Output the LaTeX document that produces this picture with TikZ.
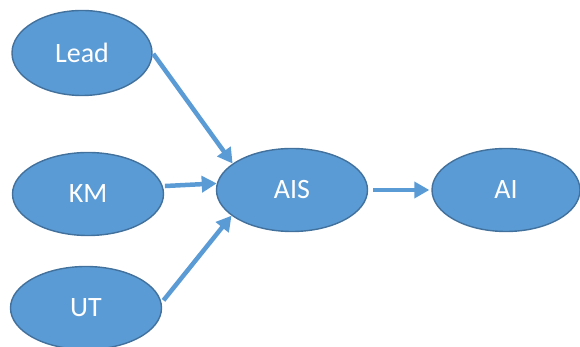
\documentclass[tikz,border=0pt]{standalone}
\usepackage{fontspec}
\setmainfont{Carlito}
\usetikzlibrary{shapes.geometric,arrows.meta}
\definecolor{nodeblue}{HTML}{5B9BD5}
\definecolor{nodeedge}{HTML}{41719C}
\tikzset{
  bubble/.style={ellipse, draw=nodeedge, line width=1.4pt, fill=nodeblue,
    text=white, inner sep=0pt, minimum width=151pt, minimum height=83pt,
    font=\fontsize{28}{32}\selectfont},
  link/.style={draw=nodeblue, line width=4.5pt,
    -{Triangle[length=15pt,width=16pt]}}
}
\begin{document}
\begin{tikzpicture}[x=1pt,y=1pt]
  \useasboundingbox (0,0) rectangle (580,347);
  \node[bubble, minimum width=140pt, minimum height=85pt] (lead) at (82,294) {Lead};
  \node[bubble] (km) at (88,153) {KM};
  \node[bubble] (ut) at (86,39) {UT};
  \node[bubble] (ais) at (292,157) {AIS};
  \node[bubble, minimum width=148pt] (ai) at (506,157) {AI};
  \draw[link, shorten <=1pt] (lead.east) -- (ais.156);
  \draw[link, shorten <=2pt] (km.6) -- (ais.175);
  \draw[link, shorten <=3pt] (ut.4) -- (ais.203);
  \draw[link, shorten <=5pt, shorten >=2pt] (ais.east) -- (ai.west);
\end{tikzpicture}
\end{document}
